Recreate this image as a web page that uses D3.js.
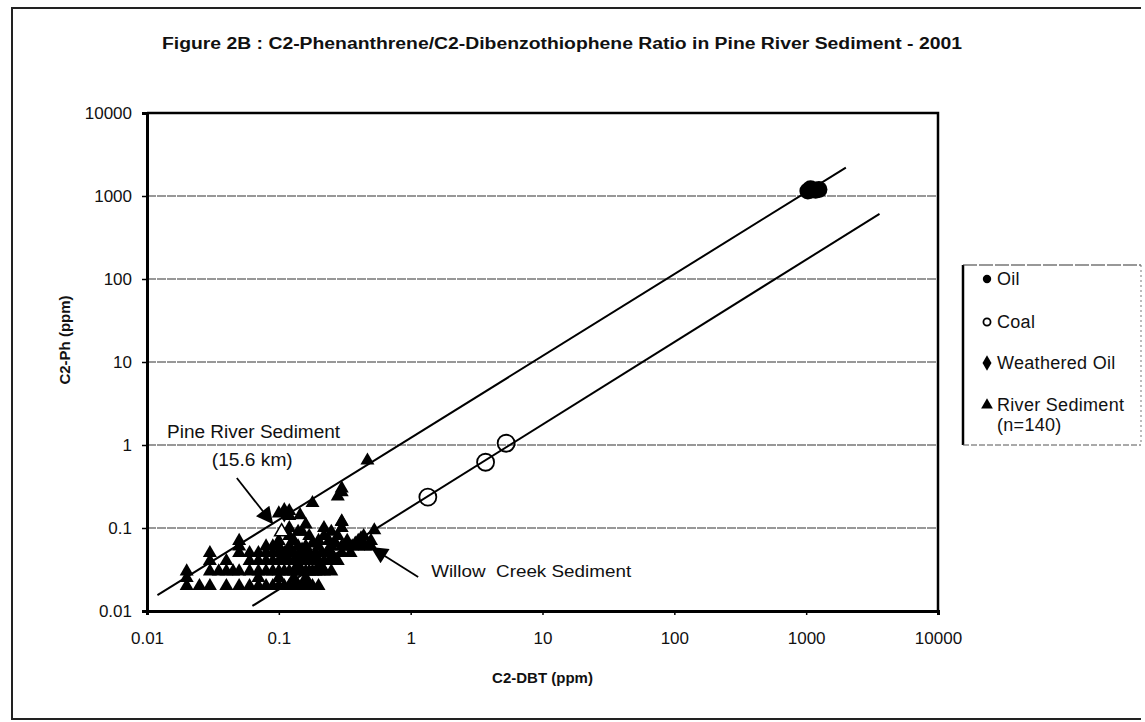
<!DOCTYPE html>
<html>
<head>
<meta charset="utf-8">
<script src="https://cdn.jsdelivr.net/npm/d3@7"></script>
<style>
    body { margin: 0; background: #fff; }
    text { font-family: "Liberation Sans", Arial, sans-serif; fill: #111; }
</style>
</head>
<body>
<div id="chart"></div>
<script>
// values (ppm)
var tickValues = [0.01, 0.1, 1, 10, 100, 1000, 10000];
var tickLabels = ["0.01", "0.1", "1", "10", "100", "1000", "10000"];

var oilX = [1030, 1100, 1180, 1250, 1080];
var oilY = [1150, 1180, 1170, 1200, 1220];

var coalX = [1.35, 3.7, 5.3];
var coalY = [0.236, 0.62, 1.05];

var weatheredX = [0.11];
var weatheredY = [0.155];

var pineRiverX = [0.105];
var pineRiverY = [0.09];

// river sediment (n=140), [C2-DBT, C2-Ph]
var sediment = [
    [0.02,0.02],[0.03,0.02],[0.04,0.02],[0.05,0.02],[0.06,0.02],[0.07,0.02],[0.08,0.02],[0.09,0.02],
    [0.1,0.02],[0.11,0.02],[0.12,0.02],[0.13,0.02],[0.14,0.02],[0.15,0.02],[0.16,0.02],[0.17,0.02],
    [0.18,0.02],[0.2,0.02],
    [0.02,0.03],[0.03,0.03],[0.05,0.03],[0.06,0.03],[0.07,0.03],[0.08,0.03],[0.09,0.03],[0.1,0.03],
    [0.11,0.03],[0.12,0.03],[0.13,0.03],[0.14,0.03],[0.15,0.03],[0.16,0.03],[0.17,0.03],[0.18,0.03],
    [0.19,0.03],[0.2,0.03],[0.22,0.03],[0.25,0.03],
    [0.03,0.04],[0.04,0.04],[0.06,0.04],[0.07,0.04],[0.08,0.04],[0.09,0.04],[0.1,0.04],[0.11,0.04],
    [0.12,0.04],[0.13,0.04],[0.14,0.04],[0.15,0.04],[0.16,0.04],[0.17,0.04],[0.18,0.04],[0.2,0.04],
    [0.22,0.04],[0.24,0.04],[0.26,0.04],[0.28,0.04],
    [0.03,0.05],[0.05,0.05],[0.07,0.05],[0.08,0.05],[0.09,0.05],[0.1,0.05],[0.11,0.05],[0.12,0.05],
    [0.13,0.05],[0.15,0.05],[0.17,0.05],[0.19,0.05],[0.21,0.05],[0.23,0.05],[0.25,0.05],[0.3,0.05],
    [0.35,0.05],
    [0.05,0.06],[0.08,0.06],[0.1,0.06],[0.12,0.06],[0.14,0.06],[0.16,0.06],[0.2,0.06],[0.25,0.06],
    [0.3,0.06],[0.32,0.06],[0.36,0.06],[0.4,0.06],[0.45,0.06],[0.5,0.06],
    [0.05,0.07],[0.1,0.07],[0.13,0.07],[0.2,0.07],[0.24,0.07],[0.33,0.07],[0.4,0.07],[0.5,0.07],
    [0.12,0.08],[0.17,0.08],[0.22,0.08],[0.28,0.08],[0.44,0.08],[0.53,0.094],
    [0.14,0.09],[0.15,0.09],[0.25,0.09],
    [0.12,0.1],[0.22,0.1],[0.3,0.1],
    [0.16,0.11],[0.3,0.118],[0.3,0.12],
    [0.12,0.14],[0.145,0.143],[0.1,0.15],[0.12,0.16],
    [0.18,0.2],[0.28,0.24],[0.3,0.27],[0.3,0.3],[0.47,0.65],
    [0.02,0.025],[0.025,0.02],[0.035,0.03],[0.045,0.03],[0.06,0.05],[0.09,0.06],[0.11,0.045],
    [0.14,0.035],[0.19,0.045],[0.21,0.035],[0.16,0.025],[0.13,0.025],[0.1,0.025],[0.07,0.025],
    [0.24,0.055],[0.27,0.065],[0.38,0.065],[0.42,0.075],[0.18,0.065],[0.15,0.055],[0.04,0.03]
];

var upperLine = [[0.012, 0.0155], [2000, 2200]];
var lowerLine = [[0.063, 0.0115], [3600, 610]];

var legendLabels = ["Oil", "Coal", "Weathered Oil", "River Sediment"];

(function() {
    var width = 1145, height = 722;
    var svg = d3.select("#chart")
        .append("svg")
        .attr("width", width)
        .attr("height", height);

    var x = d3.scaleLog().domain([0.01, 10000]).range([147, 938]);
    var y = d3.scaleLog().domain([0.01, 10000]).range([611, 113]);

    // outer frame (scanned page)
    svg.append("path")
        .attr("d", "M1141,8 L12,8 L12,719 L1141,719")
        .attr("fill", "none")
        .attr("stroke", "#222")
        .attr("stroke-width", 2);

    svg.append("text")
        .attr("x", 162)
        .attr("y", 49)
        .attr("textLength", 800)
        .attr("lengthAdjust", "spacingAndGlyphs")
        .style("font-size", "16px")
        .style("font-weight", "bold")
        .text("Figure 2B : C2-Phenanthrene/C2-Dibenzothiophene Ratio in Pine River Sediment - 2001");

    // horizontal gridlines
    svg.append("g").selectAll("line")
        .data(tickValues)
        .enter()
        .append("line")
        .attr("x1", x(0.01))
        .attr("x2", x(10000))
        .attr("y1", function(d) { return y(d); })
        .attr("y2", function(d) { return y(d); })
        .attr("stroke", "#333")
        .attr("stroke-width", 1.2)
        .attr("stroke-dasharray", "9,1");

    var yAxis = d3.axisLeft(y)
        .tickValues(tickValues)
        .tickFormat(function(d, i) { return tickLabels[i]; })
        .tickSize(5)
        .tickPadding(10);
    var gy = svg.append("g")
        .attr("transform", "translate(" + x(0.01) + ",0)")
        .call(yAxis);

    var xAxis = d3.axisBottom(x)
        .tickValues(tickValues)
        .tickFormat(function(d, i) { return tickLabels[i]; })
        .tickSize(4)
        .tickPadding(17);
    var gx = svg.append("g")
        .attr("transform", "translate(0," + y(0.01) + ")")
        .call(xAxis);

    [gx, gy].forEach(function(g) {
        g.select(".domain").attr("stroke", "#000").attr("stroke-width", 3);
        g.selectAll(".tick line").attr("stroke", "#000").attr("stroke-width", 1.5);
        g.selectAll(".tick text")
            .style("font-family", "'Liberation Sans', Arial, sans-serif")
            .style("font-size", "17px")
            .attr("fill", "#111");
    });

    // top and right of plot box
    svg.append("path")
        .attr("d", "M" + x(0.01) + "," + y(10000) + " L" + x(10000) + "," + y(10000) + " L" + x(10000) + "," + y(0.01))
        .attr("fill", "none")
        .attr("stroke", "#000")
        .attr("stroke-width", 2.5);

    svg.append("text")
        .attr("x", (x(0.01) + x(10000)) / 2)
        .attr("y", 683)
        .attr("text-anchor", "middle")
        .style("font-size", "15px")
        .style("font-weight", "bold")
        .text("C2-DBT (ppm)");

    svg.append("text")
        .attr("transform", "translate(70,340) rotate(-90)")
        .attr("text-anchor", "middle")
        .style("font-size", "15px")
        .style("font-weight", "bold")
        .text("C2-Ph (ppm)");

    // ratio lines
    var line = d3.line()
        .x(function(d) { return x(d[0]); })
        .y(function(d) { return y(d[1]); });
    svg.selectAll(".ratio")
        .data([upperLine, lowerLine])
        .enter()
        .append("path")
        .attr("class", "ratio")
        .attr("d", line)
        .attr("fill", "none")
        .attr("stroke", "#000")
        .attr("stroke-width", 2);

    var tri = d3.symbol().type(d3.symbolTriangle).size(85);
    var pts = svg.append("g");

    pts.selectAll(".sed")
        .data(sediment)
        .enter()
        .append("path")
        .attr("class", "sed")
        .attr("d", tri)
        .attr("transform", function(d) { return "translate(" + x(d[0]) + "," + y(d[1]) + ")"; })
        .attr("fill", "#000");

    pts.selectAll(".pine")
        .data(pineRiverX)
        .enter()
        .append("path")
        .attr("class", "pine")
        .attr("d", tri)
        .attr("transform", function(d, i) { return "translate(" + x(d) + "," + y(pineRiverY[i]) + ")"; })
        .attr("fill", "#fff")
        .attr("stroke", "#000")
        .attr("stroke-width", 1.5);

    pts.selectAll(".weathered")
        .data(weatheredX)
        .enter()
        .append("path")
        .attr("class", "weathered")
        .attr("d", d3.symbol().type(d3.symbolDiamond).size(120))
        .attr("transform", function(d, i) { return "translate(" + x(d) + "," + y(weatheredY[i]) + ")"; })
        .attr("fill", "#000");

    pts.selectAll(".coal")
        .data(coalX)
        .enter()
        .append("circle")
        .attr("class", "coal")
        .attr("cx", function(d) { return x(d); })
        .attr("cy", function(d, i) { return y(coalY[i]); })
        .attr("r", 8.5)
        .attr("fill", "none")
        .attr("stroke", "#000")
        .attr("stroke-width", 1.8);

    pts.selectAll(".oil")
        .data(oilX)
        .enter()
        .append("circle")
        .attr("class", "oil")
        .attr("cx", function(d) { return x(d); })
        .attr("cy", function(d, i) { return y(oilY[i]); })
        .attr("r", 8.5)
        .attr("fill", "#000");

    // annotations
    svg.append("defs").append("marker")
        .attr("id", "head")
        .attr("viewBox", "0 0 10 10")
        .attr("refX", 9)
        .attr("refY", 5)
        .attr("markerUnits", "userSpaceOnUse")
        .attr("markerWidth", 20)
        .attr("markerHeight", 17)
        .attr("orient", "auto")
        .append("path")
        .attr("d", "M0,0 L10,5 L0,10 Z")
        .attr("fill", "#000");

    var arrows = [
        [[0.048, 0.40], [0.089, 0.115]],
        [[1.14, 0.0257], [0.51, 0.0574]]
    ];
    svg.selectAll(".arrow")
        .data(arrows)
        .enter()
        .append("line")
        .attr("class", "arrow")
        .attr("x1", function(d) { return x(d[0][0]); })
        .attr("y1", function(d) { return y(d[0][1]); })
        .attr("x2", function(d) { return x(d[1][0]); })
        .attr("y2", function(d) { return y(d[1][1]); })
        .attr("stroke", "#000")
        .attr("stroke-width", 1.8)
        .attr("marker-end", "url(#head)");

    svg.append("text")
        .attr("x", x(0.0142))
        .attr("y", y(1.43) + 6)
        .attr("textLength", 173)
        .attr("lengthAdjust", "spacingAndGlyphs")
        .style("font-size", "18px")
        .text("Pine River Sediment");
    svg.append("text")
        .attr("x", x(0.031))
        .attr("y", y(0.66) + 6)
        .attr("textLength", 81)
        .attr("lengthAdjust", "spacingAndGlyphs")
        .style("font-size", "18px")
        .text("(15.6 km)");
    svg.append("text")
        .attr("x", x(1.43))
        .attr("y", y(0.0303) + 6)
        .attr("textLength", 200)
        .attr("lengthAdjust", "spacingAndGlyphs")
        .style("font-size", "17px")
        .style("white-space", "pre")
        .text("Willow  Creek Sediment");

    // legend
    var lg = svg.append("g");
    lg.append("line")
        .attr("x1", 963).attr("y1", 265).attr("x2", 963).attr("y2", 445)
        .attr("stroke", "#000").attr("stroke-width", 2.5);
    lg.append("line")
        .attr("x1", 963).attr("y1", 265).attr("x2", 1141).attr("y2", 265)
        .attr("stroke", "#333").attr("stroke-width", 1.2).attr("stroke-dasharray", "14,2");
    lg.append("line")
        .attr("x1", 1141).attr("y1", 265).attr("x2", 1141).attr("y2", 445)
        .attr("stroke", "#777").attr("stroke-width", 1).attr("stroke-dasharray", "2,3");
    lg.append("line")
        .attr("x1", 963).attr("y1", 445).attr("x2", 1141).attr("y2", 445)
        .attr("stroke", "#555").attr("stroke-width", 1).attr("stroke-dasharray", "6,2");

    var legendY = [279, 322, 363, 405];
    var legendSym = [
        d3.symbol().type(d3.symbolCircle).size(55),
        d3.symbol().type(d3.symbolCircle).size(40),
        d3.symbol().type(d3.symbolDiamond).size(70),
        d3.symbol().type(d3.symbolTriangle).size(60)
    ];
    legendLabels.forEach(function(lab, i) {
        lg.append("path")
            .attr("d", legendSym[i])
            .attr("transform", "translate(987," + legendY[i] + ")")
            .attr("fill", i == 1 ? "#fff" : "#000")
            .attr("stroke", "#000")
            .attr("stroke-width", i == 1 ? 1.8 : 0);
        lg.append("text")
            .attr("x", 997)
            .attr("y", legendY[i] + 6)
            .style("font-size", "18px")
            .style("letter-spacing", "0.3px")
            .text(lab);
    });
    lg.append("text")
        .attr("x", 997)
        .attr("y", 431)
        .style("font-size", "18px")
        .style("letter-spacing", "0.3px")
        .text("(n=140)");
})();
</script>
</body>
</html>
